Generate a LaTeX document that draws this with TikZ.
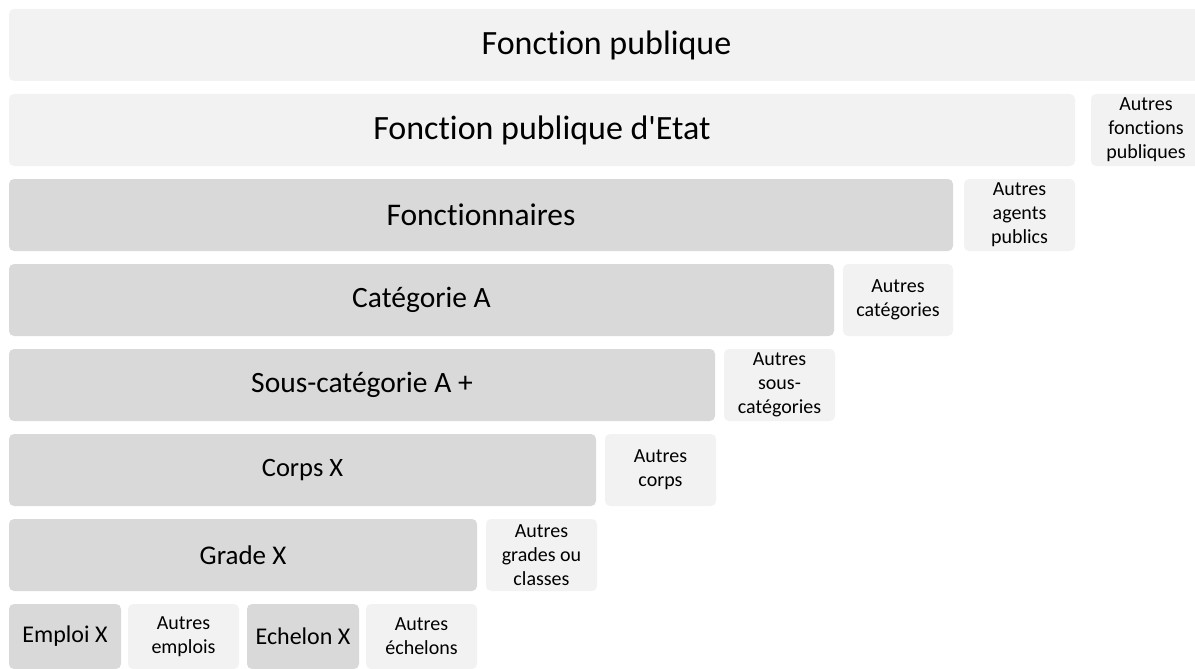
\documentclass[tikz,border=0pt]{standalone}
\usepackage{fontspec}
\setmainfont[Ligatures={NoCommon}]{Carlito}
\definecolor{lightgrey}{HTML}{F2F2F2}
\definecolor{darkgrey}{HTML}{D9D9D9}

\begin{document}
\begin{tikzpicture}[x=1pt, y=-1pt,
    box/.style={rectangle, rounded corners=5pt, anchor=north west, inner sep=0pt, outer sep=0pt, minimum height=72pt, align=center},
    level/.style={box, fill=darkgrey},
    upper/.style={box, fill=lightgrey},
    other/.style={box, fill=lightgrey, font=\fontsize{20}{24}\selectfont}]
		\useasboundingbox (0, 0) rectangle (1195, 669);

		\node[upper, minimum width=1195pt, font=\fontsize{34}{40}\selectfont] (fp) at (9, 9) {Fonction publique};

		\node[upper, minimum width=1066pt, font=\fontsize{34}{40}\selectfont] (fpe) at (9, 94) {Fonction publique d\textquotesingle Etat};
		\node[other, minimum width=110pt] (afp) at (1091, 94) {Autres\\fonctions\\publiques};

		\node[level, minimum width=944pt, font=\fontsize{31.5}{38}\selectfont] (fonc) at (9, 179) {Fonctionnaires};
		\node[other, minimum width=111pt] (aap) at (964, 179) {Autres\\agents\\publics};

		\node[level, minimum width=825pt, font=\fontsize{29.5}{35}\selectfont] (cata) at (9, 264) {Catégorie A};
		\node[other, minimum width=110pt] (acat) at (843, 264) {Autres\\catégories};

		\node[level, minimum width=706pt, font=\fontsize{29.5}{35}\selectfont] (scat) at (9, 349) {Sous-catégorie A +};
		\node[other, minimum width=111pt] (ascat) at (724, 349) {Autres\\sous-\\catégories};

		\node[level, minimum width=587pt, font=\fontsize{26.5}{32}\selectfont] (corps) at (9, 434) {Corps X};
		\node[other, minimum width=111pt] (acorps) at (605, 434) {Autres\\corps};

		\node[level, minimum width=468pt, font=\fontsize{27}{32}\selectfont] (grade) at (9, 519) {Grade X};
		\node[other, minimum width=111pt] (agrade) at (486, 519) {Autres\\grades ou\\classes};

		\node[level, minimum width=112pt, minimum height=65pt, font=\fontsize{24}{29}\selectfont] (emploi) at (9, 604) {Emploi X};
		\node[other, minimum width=111pt, minimum height=65pt] (aemploi) at (128, 604) {Autres\\emplois};
		\node[level, minimum width=112pt, minimum height=65pt, font=\fontsize{24}{29}\selectfont] (echelon) at (247, 604) {Echelon X};
		\node[other, minimum width=111pt, minimum height=65pt] (aechelon) at (366, 604) {Autres\\échelons};
	\end{tikzpicture}
\end{document}
